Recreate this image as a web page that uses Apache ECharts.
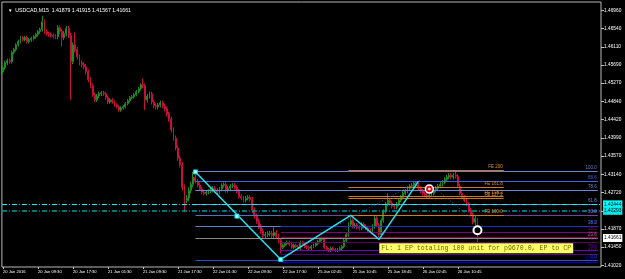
<!DOCTYPE html>
<html>
<head>
<meta charset="utf-8">
<script src="https://cdn.jsdelivr.net/npm/echarts@6/dist/echarts.min.js"></script>
<style>
  html, body { margin: 0; padding: 0; background: #000; }
  #chart { width: 625px; height: 279px; }
</style>
</head>
<body>
<div id="chart"></div>
<script>
// USDCAD price bars (30 min steps)
var firstOpen = 1.4553;
var closes = [
  1.4563,1.4574,1.4579,1.4577,1.4598,1.4605,1.4616,1.4624,1.4633,1.4628,
  1.4633,1.4624,1.4628,1.4631,1.4635,1.4640,1.4647,1.4652,1.4670,1.4647,
  1.4642,1.4640,1.4638,1.4636,1.4635,1.4656,1.4647,1.4633,1.4642,1.4654,
  1.4638,1.4577,1.4616,1.4605,1.4588,1.4574,1.4570,1.4565,1.4553,1.4535,
  1.4521,1.4500,1.4488,1.4497,1.4502,1.4504,1.4502,1.4493,1.4483,1.4488,
  1.4483,1.4476,1.4472,1.4464,1.4469,1.4472,1.4479,1.4486,1.4493,1.4495,
  1.4500,1.4507,1.4514,1.4523,1.4521,1.4488,1.4497,1.4502,1.4483,1.4474,
  1.4472,1.4476,1.4481,1.4474,1.4467,1.4455,1.4443,1.4418,1.4399,1.4376,
  1.4352,1.4336,1.4284,1.4254,1.4259,1.4277,1.4291,1.4308,1.4298,1.4289,
  1.4280,1.4273,1.4270,1.4273,1.4275,1.4277,1.4282,1.4277,1.4273,1.4280,
  1.4289,1.4291,1.4277,1.4282,1.4287,1.4289,1.4284,1.4275,1.4263,1.4259,
  1.4254,1.4259,1.4261,1.4256,1.4231,1.4217,1.4205,1.4193,1.4182,1.4172,
  1.4174,1.4176,1.4177,1.4172,1.4179,1.4170,1.4160,1.4144,1.4149,1.4153,
  1.4156,1.4151,1.4144,1.4149,1.4146,1.4142,1.4156,1.4151,1.4146,1.4144,
  1.4142,1.4146,1.4149,1.4153,1.4158,1.4163,1.4165,1.4144,1.4139,1.4137,
  1.4142,1.4139,1.4137,1.4139,1.4142,1.4146,1.4160,1.4174,1.4198,1.4207,
  1.4193,1.4196,1.4191,1.4189,1.4198,1.4193,1.4189,1.4184,1.4182,1.4193,
  1.4212,1.4196,1.4174,1.4207,1.4228,1.4245,1.4254,1.4247,1.4240,1.4238,
  1.4245,1.4254,1.4261,1.4270,1.4275,1.4282,1.4287,1.4289,1.4294,1.4289,
  1.4282,1.4275,1.4270,1.4266,1.4263,1.4266,1.4270,1.4277,1.4282,1.4287,
  1.4291,1.4296,1.4303,1.4308,1.4312,1.4308,1.4312,1.4310,1.4287,1.4270,
  1.4261,1.4254,1.4245,1.4231,1.4221,1.4203,1.4212,1.41661
];
// typical wick length by stretch of bars: [fromBar, toBar, up pips, down pips]
var wickSpans = [
  [0,4,5,5],[5,10,4,4],[11,17,4,5],[18,24,5,5],[25,30,6,6],[31,40,6,6],[41,48,5,5],
  [49,63,4,4],[64,76,5,6],[77,81,6,6],[82,87,7,7],[88,113,5,5],[114,126,6,6],
  [127,157,4,4],[158,175,5,5],[176,207,5,5],[208,216,5,5]
];
// long single wicks [bar, price]
var wickHighs = [[18,1.4684],[33,1.4645],[64,1.4537],[87,1.4320],[101,1.4296],[124,1.4191],
  [159,1.4214],[170,1.4219],[176,1.4270],[207,1.4320],[217,1.41915]];
var wickLows = [[27,1.4612],[31,1.4488],[65,1.4464],[83,1.4226],[127,1.4130],[172,1.4165],
  [216,1.4196],[217,1.41567]];

var xLabels = ['20 Jan 2016','20 Jan 09:30','20 Jan 17:30','21 Jan 01:30','21 Jan 09:30',
  '21 Jan 17:30','22 Jan 01:30','22 Jan 09:30','22 Jan 17:30','25 Jan 02:45',
  '25 Jan 10:45','25 Jan 18:45','26 Jan 02:45','26 Jan 10:45'];
var yTickValues = [1.4102,1.4145,1.4187,1.4229,1.4272,1.4314,1.4357,1.4399,1.4442,1.4484,
  1.4527,1.4569,1.4611,1.4654,1.4696];
var yLabelValues = [1.4102,1.4145,1.4187,1.4272,1.4314,1.4357,1.4399,1.4442,1.4484,
  1.4527,1.4569,1.4611,1.4654,1.4696];

// zigzag pivots [bar, price]
var zigzag = [[88,1.4320],[127,1.4116],[159,1.4219],[172,1.4163],[190,1.4298]];
var zigSquares = [[88,1.4320],[107,1.4217],[127,1.4116]];
var dotLine1 = [[136,1.4149],[191,1.4301]];
var dotLine2 = [[196,1.4289],[217,1.4200]];

// fibo retracement 1 (from first pivot)
var fibALabels = ['100.0','88.6','78.6','61.8','50.0','38.2','23.6','0.0'];
var fibAPrices = [1.4322,1.4298,1.4277,1.4244,1.4218,1.4194,1.4165,1.4115];
// fibo retracement 2 (from the low)
var fibBLabels = ['0.0','23.6','38.2','50.0','61.8','78.6','88.6','100.0'];
var fibBPrices = [1.4219,1.4194,1.4179,1.4168,1.4156,1.4138,1.4128,1.4110];
// fibo expansion
var feLabels = ['FE 200','FE 161.8','FE 138.2','FE 127.2','FE 100.0'];
var fePrices = [1.4324,1.4284,1.4263,1.4258,1.4219];

var levelTags = [1.42444, 1.42293];
var lastPrice = 1.41661;
var markRed = [195, 1.4280];
var markWhite = [217, 1.4184];
var noteBar = 173, notePrice = 1.4142;
var noteText = 'FL: 1 EP totaling 100 unit for p9670.0, EP to CP';

var catCount = 274, step = 16, pip = 0.0001;
var cats = [];
for (var i = 0; i < catCount; i++) {
  cats.push(i % step === 0 && i / step < xLabels.length ? xLabels[i / step] : '');
}

var candles = [];
var prev = firstOpen;
for (var i = 0; i < closes.length; i++) {
  var o = prev, c = closes[i];
  candles.push([o, c, Math.min(o, c), Math.max(o, c)]);
  prev = c;
}
wickSpans.forEach(function (s) {
  for (var b = s[0]; b <= s[1]; b++) {
    candles[b][3] += s[2] * pip;
    candles[b][2] -= s[3] * pip;
  }
});
wickHighs.forEach(function (w) { candles[w[0]][3] = Math.max(candles[w[0]][3], w[1]); });
wickLows.forEach(function (w) { candles[w[0]][2] = Math.min(candles[w[0]][2], w[1]); });

var fibAColors = ['#6a7fc8','#4060e0','#6a8ad8','#6a8ad8','#5070c8','#6080d0','#8a8a8a','#3050c8'];
var fibBColors = ['#7040a0','#2030c0','#800080','#8b0040','#600060','#7000c0','#500080','#0000c0'];

var levelLines = [];
fibAPrices.forEach(function (p, k) {
  levelLines.push([{ coord: [88, p], lineStyle: { color: fibAColors[k] },
    label: { formatter: fibALabels[k], color: fibAColors[k] } }, { coord: [272, p] }]);
});
fibBPrices.forEach(function (p, k) {
  levelLines.push([{ coord: [127, p], lineStyle: { color: fibBColors[k] },
    label: { formatter: fibBLabels[k], color: fibBColors[k] } }, { coord: [272, p] }]);
});
fePrices.forEach(function (p, k) {
  levelLines.push([{ coord: [158, p], lineStyle: { color: '#d07a20' },
    label: { formatter: feLabels[k], color: '#e08a2a' } }, { coord: [229, p] }]);
});

var smallFont = 'Liberation Sans';

var chart = echarts.init(document.getElementById('chart'));
chart.setOption({
  backgroundColor: '#000',
  animation: false,
  title: {
    text: '{t|▼}  USDCAD,M15  1.41879 1.41915 1.41567 1.41661',
    left: 3, top: 3,
    textStyle: { color: '#fff', fontSize: 5.2, fontWeight: 'normal', fontFamily: smallFont,
      rich: { t: { fontSize: 4.5, color: '#fff' } } }
  },
  grid: { left: 1, right: 24, top: 2, bottom: 12, show: true, borderColor: '#b8b8b8', borderWidth: 1 },
  xAxis: {
    type: 'category', data: cats, boundaryGap: true,
    axisLine: { show: false },
    axisTick: { show: true, alignWithLabel: true, length: 2, lineStyle: { color: '#c0c0c0' },
      interval: function (i) { return cats[i] !== ''; } },
    axisLabel: { interval: function (i) { return cats[i] !== ''; }, align: 'left', color: '#fff',
      fontSize: 4.1, margin: 3, fontFamily: smallFont },
    splitLine: { show: false }
  },
  yAxis: {
    type: 'value', position: 'right', min: 1.40985, max: 1.47159, scale: true,
    splitLine: { show: false },
    axisLine: { show: false },
    axisTick: { show: true, length: 3, customValues: yTickValues, lineStyle: { color: '#c0c0c0' } },
    axisLabel: { customValues: yLabelValues, color: '#fff', fontSize: 4.8, margin: 3,
      fontFamily: smallFont, formatter: function (v) { return v.toFixed(5); } }
  },
  series: [
    {
      type: 'candlestick', data: candles, barWidth: 1.4,
      itemStyle: { color: '#1e8c1e', color0: '#c8103c', borderColor: '#1e8c1e', borderColor0: '#c8103c', borderWidth: 1 }
    },
    {
      type: 'line', data: [], silent: true, z: 3,
      markLine: {
        silent: true, symbol: ['none', 'none'], precision: 5,
        lineStyle: { type: 'solid', width: 1 },
        label: { show: true, position: 'insideEndTop', distance: 1, fontSize: 4.5, fontFamily: smallFont },
        data: levelLines
      }
    },
    {
      type: 'line', data: [], silent: true, z: 4,
      markLine: {
        silent: true, symbol: ['none', 'none'], precision: 5,
        label: { show: true, position: 'end', distance: 2, color: '#000', fontSize: 4.8, padding: [2, 1, 1, 1],
          fontFamily: smallFont },
        data: [
          { yAxis: levelTags[0], lineStyle: { color: '#00ffff', type: [5, 2, 1, 2], width: 1 },
            label: { formatter: levelTags[0].toFixed(5), backgroundColor: '#00ffff' } },
          { yAxis: levelTags[1], lineStyle: { color: '#009c9c', type: [5, 2, 1, 2], width: 1.6 },
            label: { formatter: levelTags[1].toFixed(5), backgroundColor: '#00e8e8' } },
          { yAxis: lastPrice, lineStyle: { color: 'rgba(0,0,0,0)', width: 0 },
            label: { formatter: lastPrice.toFixed(5), backgroundColor: '#fff' } }
        ]
      }
    },
    {
      type: 'line', data: dotLine1, symbol: 'none', silent: true, z: 5,
      lineStyle: { color: '#2a4ad0', width: 1, type: [1, 2] }
    },
    {
      type: 'line', data: dotLine2, symbol: 'none', silent: true, z: 5,
      lineStyle: { color: '#2a4ad0', width: 1, type: [1, 2] }
    },
    {
      type: 'line', data: zigzag, symbol: 'none', silent: true, z: 6,
      lineStyle: { color: '#22e4ee', width: 1.5 }
    },
    {
      type: 'scatter', data: zigSquares, symbol: 'rect', symbolSize: 4, silent: true, z: 7,
      itemStyle: { color: '#b0ffff', borderColor: '#00d8e8', borderWidth: 1, opacity: 1 }
    },
    {
      type: 'scatter', data: [markRed], symbol: 'circle', symbolSize: 8, silent: true, z: 7,
      itemStyle: { color: '#e01020', borderColor: '#fff', borderWidth: 1.5, opacity: 1 }
    },
    {
      type: 'scatter', data: [markRed], symbol: 'circle', symbolSize: 2.5, silent: true, z: 8,
      itemStyle: { color: '#fff', opacity: 1 }
    },
    {
      type: 'scatter', data: [markWhite], symbol: 'circle', symbolSize: 8, silent: true, z: 7,
      itemStyle: { color: '#000', borderColor: '#fff', borderWidth: 2, opacity: 1 }
    },
    {
      type: 'scatter', data: [[noteBar, notePrice]], symbolSize: 0, silent: true, z: 9,
      itemStyle: { opacity: 1 },
      label: { show: true, position: 'right', distance: 0, offset: [-2, 0], formatter: noteText,
        color: '#6b6b00', backgroundColor: '#ffff66', fontFamily: 'Liberation Mono', fontSize: 6.6,
        padding: [2, 2, 1, 2] }
    }
  ]
});
</script>
</body>
</html>
